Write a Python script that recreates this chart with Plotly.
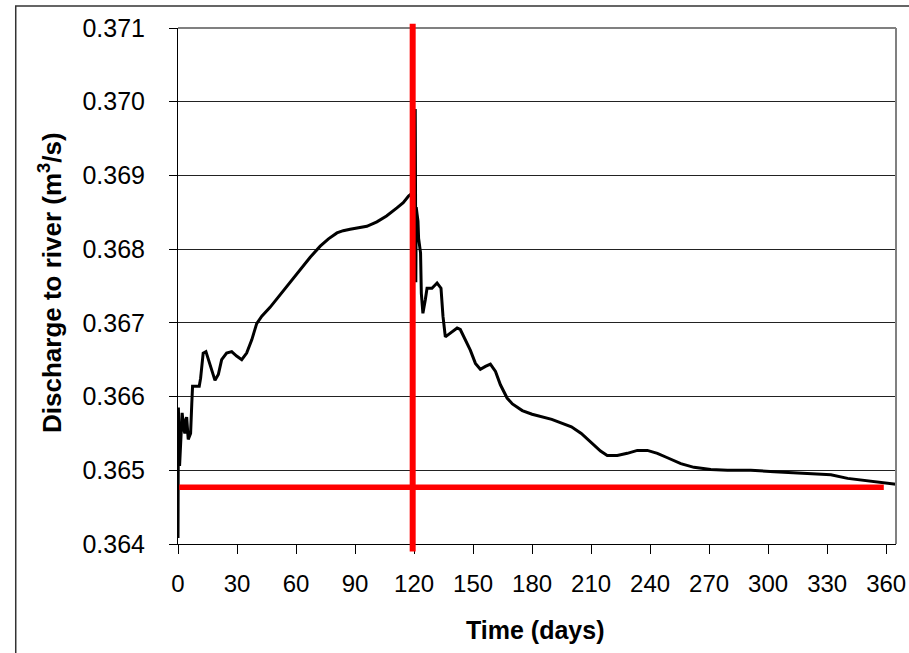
import plotly.graph_objects as go

# ---- data ----
days = [0, 0.2, 0.8, 1.6, 2.1, 3.0, 3.5, 4.0, 4.4, 5.2, 6.4, 7.0, 7.4, 9.0, 10.8, 11.5,
        12.8, 14.2, 16.2, 18.8, 20.5, 22.2, 24.7, 27.3, 29.8, 32.4, 34.9, 37.5, 40.0,
        42.6, 46.8, 53.6, 57.8, 60.4, 63.8, 67.2, 72.3, 76.5, 80.8, 84.0, 87.5, 92.0,
        96.0, 101.1, 106.0, 111.3, 114.5, 117.2, 119.5, 120.3, 120.6, 120.9, 121.1,
        121.5, 122.0, 122.3, 123.0, 123.3, 123.7, 124.5, 125.7, 126.6, 129.1, 131.7,
        133.7, 134.7, 135.9, 138.4, 141.9, 143.5, 146.1, 148.6, 151.2, 153.7, 156.3,
        158.8, 161.4, 163.9, 167.3, 170, 175, 180, 190, 200, 205, 210, 214.8, 218.2,
        223.3, 228.4, 233.5, 238.6, 243.7, 248.8, 255.6, 262.3, 270.8, 279.3, 291.2,
        303.1, 316.7, 331.9, 340.4, 350.6, 365]
discharge = [0.36408, 0.36585, 0.36506, 0.36565, 0.36578, 0.36555, 0.36550, 0.36569,
             0.36572, 0.36542, 0.36550, 0.36590, 0.36614, 0.36614, 0.36614, 0.36625,
             0.36659, 0.36661, 0.36645, 0.36622, 0.36630, 0.36650, 0.36659, 0.36661,
             0.36655, 0.36650, 0.36659, 0.36677, 0.36699, 0.36709, 0.36721, 0.36744,
             0.36758, 0.36766, 0.36777, 0.36789, 0.36804, 0.36814, 0.36822, 0.36825,
             0.36827, 0.36829, 0.36831, 0.36837, 0.36845, 0.36856, 0.36863, 0.36872,
             0.36877, 0.36885, 0.36990, 0.36755, 0.36857, 0.36848, 0.36838, 0.36815,
             0.36800, 0.36795, 0.36740, 0.36713, 0.36731, 0.36747, 0.36747, 0.36754,
             0.36747, 0.36709, 0.36681, 0.36686, 0.36693, 0.36691, 0.36677, 0.36663,
             0.36645, 0.36637, 0.36641, 0.36644, 0.36634, 0.36616, 0.36598, 0.36590,
             0.36581, 0.36576, 0.36569, 0.36559, 0.36550, 0.36538, 0.36526, 0.36520,
             0.36520, 0.36523, 0.36527, 0.36527, 0.36523, 0.36517, 0.36509, 0.36504,
             0.36501, 0.36500, 0.36500, 0.36498, 0.36496, 0.36494, 0.36489, 0.36486,
             0.36481]

x_ticks = [0, 30, 60, 90, 120, 150, 180, 210, 240, 270, 300, 330, 360]
y_ticks = [0.364, 0.365, 0.366, 0.367, 0.368, 0.369, 0.370, 0.371]

red_v_day = 119.3              # vertical red marker (day)
red_h_value = 0.36477          # horizontal red marker (discharge)
red_h_start, red_h_end = 0.6, 358.8

FONT = "Liberation Sans, Arial, sans-serif"

fig = go.Figure()
fig.add_trace(go.Scatter(x=days, y=discharge, mode="lines",
                         line=dict(color="black", width=3),
                         showlegend=False, hoverinfo="skip"))

fig.update_layout(
    width=909, height=653,
    margin=dict(l=178, r=13, t=28, b=109, autoexpand=False),
    paper_bgcolor="white", plot_bgcolor="white",
    font=dict(family=FONT, color="black"),
    xaxis=dict(range=[0, 365], tickvals=x_ticks, ticktext=[str(v) for v in x_ticks],
               automargin=False,
               showgrid=False, zeroline=False, showline=True, linecolor="black",
               linewidth=1, ticks="outside", ticklen=9, tickcolor="black",
               tickfont=dict(size=24, family=FONT), ticklabelstandoff=9),
    yaxis=dict(range=[0.364, 0.371], tickvals=y_ticks,
               ticktext=[f"{v:.3f}" for v in y_ticks], automargin=False,
               showgrid=True, gridcolor="#222222", gridwidth=1, zeroline=False,
               showline=True, linecolor="black", linewidth=1, ticks="outside",
               ticklen=8, tickcolor="black",
               tickfont=dict(size=25, family=FONT), ticklabelstandoff=19),
)

shapes = [
    # outer frame
    dict(type="rect", xref="paper", yref="paper", x0=-0.226, x1=1.2, y0=-0.3, y1=1.0426,
         line=dict(color="#333333", width=1.5), layer="below"),
    # grey plot border top / right
    dict(type="line", xref="paper", yref="paper", x0=0, x1=1, y0=1, y1=1,
         line=dict(color="#808080", width=2)),
    dict(type="line", xref="paper", yref="paper", x0=1, x1=1, y0=0, y1=1,
         line=dict(color="#808080", width=2)),
    # red markers
    dict(type="line", xref="x", yref="y", x0=red_h_start, x1=red_h_end,
         y0=red_h_value, y1=red_h_value, line=dict(color="#FF0000", width=5.5)),
    dict(type="line", xref="x", yref="paper", x0=red_v_day, x1=red_v_day,
         y0=-0.0147, y1=1.008, line=dict(color="#FF0000", width=6)),
]
fig.update_layout(shapes=shapes)

fig.add_annotation(text="<b>Time (days)</b>", xref="paper", yref="paper",
                   x=(535 - 178) / 718, y=(544 - 630) / 516, showarrow=False,
                   xanchor="center", yanchor="middle",
                   font=dict(size=25, family=FONT, color="black"))
fig.add_annotation(text="<b>Discharge to river (m<sup>3</sup>/s)</b>", xref="paper",
                   yref="paper", x=(50 - 178) / 718, y=(544 - 283) / 516,
                   showarrow=False, textangle=-90, xanchor="center", yanchor="middle",
                   font=dict(size=26, family=FONT, color="black"))

fig.write_html("out.html")
